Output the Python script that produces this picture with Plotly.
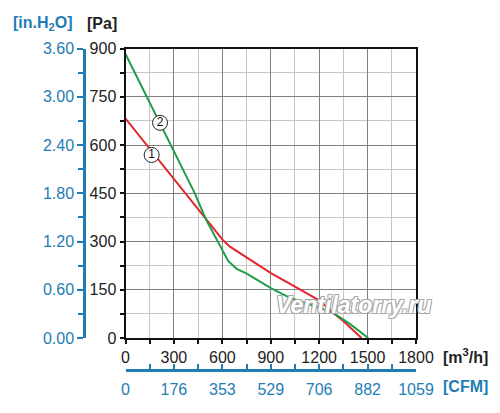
import plotly.graph_objects as go

# fan curves, airflow [m3/h] vs static pressure [Pa]
flow_1 = [0, 200, 400, 500, 606, 647, 751, 901, 1050, 1200, 1287, 1349, 1462]
pres_1 = [682, 558, 432, 369, 303, 284, 251, 202, 160, 117, 78, 53, 0]

flow_2 = [0, 216, 431, 499, 565, 606, 637, 689, 751, 901, 1019, 1200, 1287, 1390, 1504]
pres_2 = [883, 666, 448, 368, 308, 267, 239, 215, 200, 155, 125, 94, 78, 44, 0]

# curve number labels
label_x = [162, 214]
label_y = [569, 669]
label_txt = ["1", "2"]

# secondary scales
cfm_ticks = [0, 300, 600, 900, 1200, 1500, 1800]
cfm_text = ["0", "176", "353", "529", "706", "882", "1059"]

RED = "#e3262b"
GREEN = "#1f9d48"
BLUE = "#1f7db5"
FONT = "Liberation Sans, Arial, sans-serif"

W, H = 500, 413
OFF = 8  # page body margin shifts the figure


def px(x):
    return (x - OFF) / W


def py(y):
    return 1 - (y - OFF) / H


fig = go.Figure()

fig.add_trace(go.Scatter(x=flow_1, y=pres_1, mode="lines",
                         line=dict(color=RED, width=2), hoverinfo="skip"))
fig.add_trace(go.Scatter(x=flow_2, y=pres_2, mode="lines",
                         line=dict(color=GREEN, width=2), hoverinfo="skip"))
fig.add_trace(go.Scatter(x=label_x, y=label_y, mode="markers+text",
                         text=label_txt, textposition="middle center",
                         textfont=dict(family=FONT, size=12, color="#111"),
                         marker=dict(symbol="circle", size=15, color="white",
                                     line=dict(color="#222", width=1)),
                         hoverinfo="skip"))
# dummy traces so the extra axes get drawn
fig.add_trace(go.Scatter(x=[None], y=[None], xaxis="x", yaxis="y2", hoverinfo="skip"))
fig.add_trace(go.Scatter(x=[None], y=[None], xaxis="x2", yaxis="y", hoverinfo="skip"))

tickfont = dict(family=FONT, size=16, color="#222")
bluefont = dict(family=FONT, size=16, color=BLUE)

fig.update_layout(
    width=W, height=H,
    margin=dict(l=0, r=0, t=0, b=0),
    paper_bgcolor="white", plot_bgcolor="white",
    showlegend=False,
    xaxis=dict(domain=[px(125.5), px(416)], range=[0, 1800],
               tick0=0, dtick=300, ticks="outside", ticklen=4, tickwidth=1.5,
               tickcolor="#111", tickfont=tickfont,
               showline=True, linecolor="#111", linewidth=2, mirror=True,
               showgrid=True, gridcolor="#808080", gridwidth=1.3,
               zeroline=False, automargin=False,
               minor=dict(dtick=150, showgrid=True, gridcolor="#c6c6c6",
                          gridwidth=1, ticks="outside", ticklen=4,
                          tickcolor="#111")),
    yaxis=dict(domain=[py(338), py(48.5)], range=[0, 900],
               tick0=0, dtick=150, ticks="outside", ticklen=4, tickwidth=1.5,
               tickcolor="#111", tickfont=tickfont,
               showline=True, linecolor="#111", linewidth=2, mirror=True,
               showgrid=True, gridcolor="#808080", gridwidth=1.3,
               zeroline=False, automargin=False,
               minor=dict(dtick=75, showgrid=True, gridcolor="#c6c6c6",
                          gridwidth=1, ticks="outside", ticklen=4,
                          tickcolor="#111")),
    yaxis2=dict(overlaying="y", anchor="free", position=px(84), side="left",
                range=[0, 3.6], tick0=0, dtick=0.6, tickformat=".2f",
                ticks="outside", ticklen=6, tickwidth=2, tickcolor=BLUE,
                tickfont=bluefont, showline=True, linecolor=BLUE, linewidth=2.5,
                showgrid=False, zeroline=False, automargin=False,
                minor=dict(dtick=0.3, ticks="outside", ticklen=5,
                           tickcolor=BLUE, showgrid=False)),
    xaxis2=dict(overlaying="x", anchor="free", position=py(370), side="bottom",
                range=[0, 1800], tickmode="array", tickvals=cfm_ticks,
                ticktext=cfm_text, ticks="inside", ticklen=5, tickwidth=2,
                tickcolor=BLUE, tickfont=bluefont, showline=True,
                linecolor=BLUE, linewidth=2.5, showgrid=False, zeroline=False,
                automargin=False, ticklabelstandoff=4,
                minor=dict(tickmode="linear", tick0=0, dtick=150,
                           ticks="inside", ticklen=5, tickcolor=BLUE,
                           showgrid=False)),
)

ann_bold = dict(family=FONT, size=16, color="#222", weight="bold")
fig.add_annotation(x=px(102), y=py(24), xref="paper", yref="paper",
                   xanchor="center", yanchor="middle",
                   text="[Pa]", showarrow=False, font=ann_bold)
fig.add_annotation(x=px(43), y=py(24), xref="paper", yref="paper",
                   xanchor="center", yanchor="middle",
                   text="[in.H<sub>2</sub>O]", showarrow=False,
                   font=dict(ann_bold, color=BLUE))
fig.add_annotation(x=px(441), y=py(356), xref="paper", yref="paper",
                   xanchor="left", yanchor="middle",
                   text="[m<sup>3</sup>/h]", showarrow=False, font=ann_bold)
fig.add_annotation(x=px(441), y=py(386), xref="paper", yref="paper",
                   xanchor="left", yanchor="middle",
                   text="[CFM]", showarrow=False,
                   font=dict(ann_bold, color=BLUE))

# watermark
fig.add_annotation(x=px(354), y=py(305), xref="paper", yref="paper",
                   xanchor="center", yanchor="middle",
                   text="Ventilatorry.ru", showarrow=False,
                   font=dict(family=FONT, size=23, color="white",
                             weight="bold", style="italic",
                             shadow="1px 1px 0 #a8a8a8, -1px -1px 0 #a8a8a8, "
                                    "1px -1px 0 #a8a8a8, -1px 1px 0 #a8a8a8"))

fig.write_html("out.html")
